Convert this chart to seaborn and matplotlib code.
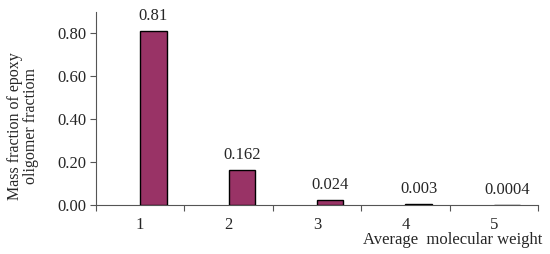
import matplotlib
matplotlib.use("Agg")
import matplotlib.pyplot as plt
import numpy as np
import pandas as pd
import seaborn as sns

categories = ["1", "2", "3", "4", "5"]
mass_fraction = [0.81, 0.162, 0.024, 0.003, 0.0004]
value_labels = ["0.81", "0.162", "0.024", "0.003", "0.0004"]

df = pd.DataFrame({"weight": categories, "fraction": mass_fraction})

sns.set_style("white")
plt.rcParams["font.family"] = ["Liberation Serif", "DejaVu Serif"]

fig = plt.figure(figsize=(5.5, 2.54), dpi=100)
ax = fig.add_axes([0.1745, 0.193, 0.8035, 0.76])

sns.barplot(data=df, x="weight", y="fraction", color="#993366", saturation=1,
            width=0.3, edgecolor="black", linewidth=1.0, ax=ax)

# bars sit to the right of the category centre, drawn over the axis line
for p in ax.patches:
    p.set_x(p.get_x() + 0.15)
    p.set_zorder(3)

ax.bar_label(ax.containers[0], labels=value_labels, padding=5, fontsize=12)

ax.set_xlim(-0.5, 4.5)
ax.set_ylim(0, 0.9)
ax.set_yticks(np.arange(0, 0.81, 0.2))
ax.set_yticklabels([f"{v:.2f}" for v in np.arange(0, 0.81, 0.2)], fontsize=12)
ax.set_xticks(range(5))
ax.set_xticklabels(categories, fontsize=12)
ax.set_xticks(np.arange(-0.5, 4.6, 1), minor=True)
ax.tick_params(axis="x", which="major", length=0, pad=9)
ax.tick_params(axis="x", which="minor", bottom=True, length=4, width=0.8,
               direction="out", color="#555555")
ax.tick_params(axis="y", length=4, width=0.8, direction="out", color="#555555", left=True, pad=3)

for side in ["top", "right"]:
    ax.spines[side].set_visible(False)
for side in ["left", "bottom"]:
    ax.spines[side].set_color("#555555")
    ax.spines[side].set_linewidth(0.8)

ax.set_ylabel("Mass fraction of epoxy\noligomer fractiom", fontsize=11.5, linespacing=0.95)
ax.yaxis.set_label_coords(-0.13, 0.41)
ax.set_xlabel("Average  molecular weight", fontsize=12, ha="right", va="top")
ax.xaxis.set_label_coords(1.011, -0.14)

fig.savefig("out.png", dpi=100)
